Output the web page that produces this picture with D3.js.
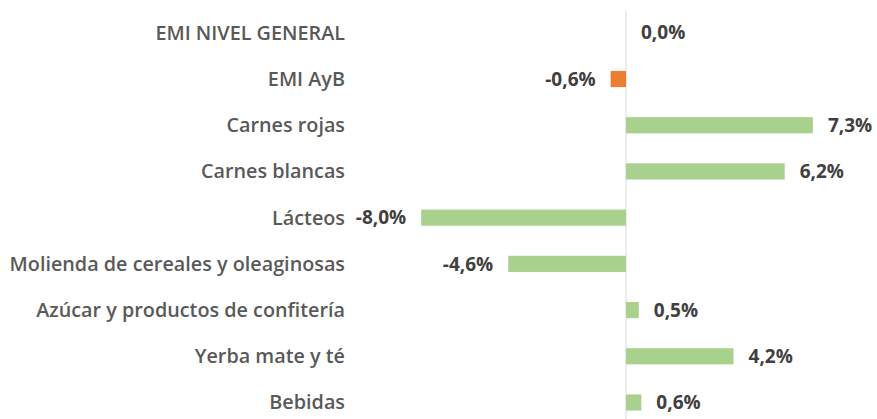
<!DOCTYPE html>
<html>
<head>
<meta charset="utf-8">
<script src="https://cdn.jsdelivr.net/npm/d3@7"></script>
<style>
  body { margin: 0; background: #fff; }
  text { font-family: "Open Sans", sans-serif; }
</style>
</head>
<body>
<svg width="877" height="419"></svg>
<script>
// categories top to bottom
const categories = [
  "EMI NIVEL GENERAL",
  "EMI AyB",
  "Carnes rojas",
  "Carnes blancas",
  "Lácteos",
  "Molienda de cereales y oleaginosas",
  "Azúcar y productos de confitería",
  "Yerba mate y té",
  "Bebidas"
];
// variation in %
const values = [0.0, -0.6, 7.3, 6.2, -8.0, -4.6, 0.5, 4.2, 0.6];
// which bars are highlighted (EMI AyB is orange)
const highlight = [false, true, false, false, false, false, false, false, false];

const svg = d3.select("svg"),
  width = +svg.attr("width"),
  height = +svg.attr("height");

const locale = d3.formatLocale({ decimal: ",", thousands: ".", grouping: [3], currency: ["$", ""], minus: "-" });
const fmt = (v) => locale.format(".1f")(v) + "%";

// x scale, zero line sits near 626px
const x = d3.scaleLinear().domain([-8, 8]).range([421.2, 830.8]);
const y = d3.scaleBand().domain(categories).range([9.7, 425.6]).paddingInner(0.65).paddingOuter(0.325);

// zero line
svg.append("line")
  .attr("x1", x(0)).attr("x2", x(0))
  .attr("y1", 10).attr("y2", height)
  .attr("stroke", "#d9d9d9")
  .attr("stroke-width", 1);

// bars
svg.selectAll(".bar")
  .data(values)
  .enter()
  .append("rect")
  .attr("class", "bar")
  .attr("x", (d) => x(Math.min(0, d)))
  .attr("width", (d) => Math.abs(x(d) - x(0)))
  .attr("y", (d, i) => y(categories[i]))
  .attr("height", y.bandwidth())
  .attr("fill", (d, i) => (highlight[i] ? "#ED7D31" : "#A9D18E"));

// category labels on the left
svg.selectAll(".cat")
  .data(categories)
  .enter()
  .append("text")
  .attr("class", "cat")
  .attr("x", 345)
  .attr("y", (d) => y(d) + y.bandwidth() / 2)
  .attr("dy", "0.35em")
  .attr("text-anchor", "end")
  .attr("font-size", 19.8)
  .attr("font-weight", 600)
  .attr("fill", "#595959")
  .text((d) => d);

// value labels at the end of the bars
svg.selectAll(".val")
  .data(values)
  .enter()
  .append("text")
  .attr("class", "val")
  .attr("x", (d) => (d < 0 ? x(d) - 15 : x(d) + 15))
  .attr("y", (d, i) => y(categories[i]) + y.bandwidth() / 2)
  .attr("dy", "0.35em")
  .attr("text-anchor", (d) => (d < 0 ? "end" : "start"))
  .attr("font-size", 19)
  .attr("font-weight", "bold")
  .attr("fill", "#404040")
  .text((d) => fmt(d));
</script>
</body>
</html>
